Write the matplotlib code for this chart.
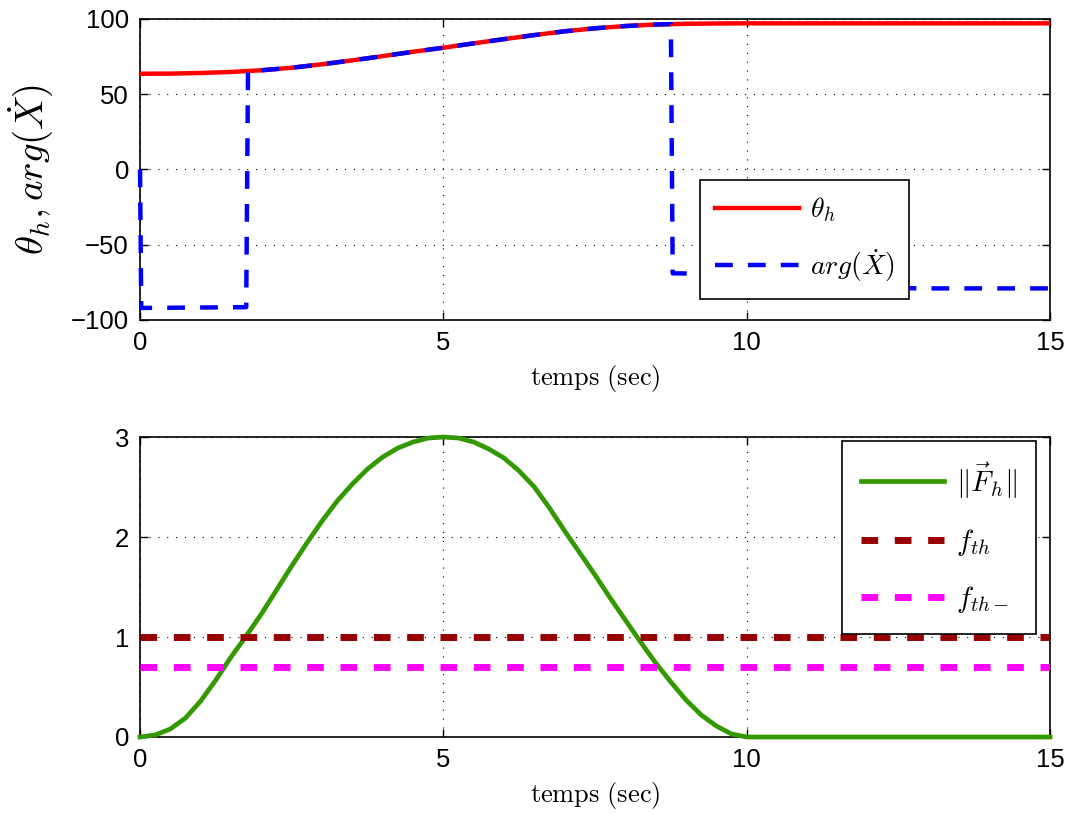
import matplotlib
matplotlib.use("Agg")
import matplotlib.pyplot as plt

plt.rcParams['font.family'] = ['Liberation Sans', 'DejaVu Sans']
plt.rcParams['mathtext.fontset'] = 'cm'

# --- top panel: heading angle and direction of the velocity (deg)
theta_t = [0, 0.5, 1, 1.5, 2, 2.5, 3, 3.5, 4, 4.5, 5, 5.5, 6, 6.5, 7, 7.5, 8, 8.5, 9, 9.5, 10, 15]
theta_h = [63.6, 63.7, 64.1, 64.8, 65.9, 67.6, 69.9, 72.5, 75.3, 78.2, 80.9, 83.8, 86.6, 89.3,
           91.8, 93.8, 95.3, 96.3, 96.8, 97.0, 97.1, 97.1]

arg_t = [0, 0.02, 1.75, 1.78, 2, 2.5, 3, 3.5, 4, 4.5, 5, 5.5, 6, 6.5, 7, 7.5, 8, 8.5, 8.75,
         8.78, 9.3, 10, 11, 12, 12.9, 15]
arg_x = [0, -92, -91.5, 65.6, 65.9, 67.6, 69.9, 72.5, 75.3, 78.2, 80.9, 83.8, 86.6, 89.3,
         91.8, 93.8, 95.3, 96.3, 96.6, -69, -69.2, -72, -76, -78.5, -79, -79]

# --- bottom panel: force norm and thresholds
force_t = [0, 0.25, 0.5, 0.75, 1, 1.25, 1.5, 1.75, 2, 2.25, 2.5, 2.75, 3, 3.25, 3.5, 3.75,
           4, 4.25, 4.5, 4.75, 5, 5.25, 5.5, 5.75, 6, 6.25, 6.5, 6.75, 7, 7.25, 7.5, 7.75,
           8, 8.25, 8.5, 8.75, 9, 9.25, 9.5, 9.75, 10, 15]
force_norm = [0, 0.02, 0.08, 0.19, 0.36, 0.57, 0.80, 1.01, 1.23, 1.47, 1.71, 1.94, 2.16, 2.36,
              2.53, 2.68, 2.80, 2.89, 2.95, 2.99, 3.0, 2.99, 2.95, 2.88, 2.79, 2.66, 2.50, 2.29,
              2.06, 1.84, 1.62, 1.39, 1.17, 0.95, 0.74, 0.55, 0.37, 0.22, 0.11, 0.03, 0.0, 0.0]
seuil_t = [0, 15]
f_th = [1, 1]
f_th_moins = [0.7, 0.7]

fig = plt.figure(figsize=(10.73, 8.14), dpi=100)
ax1 = fig.add_axes([0.1305, 0.6069, 0.8481, 0.3698])
ax2 = fig.add_axes([0.1305, 0.0946, 0.8481, 0.3685])

ax1.plot(theta_t, theta_h, color='#ff0000', lw=3.2, label=r'$\theta_h$', zorder=3)
ax1.plot(arg_t, arg_x, color='#0000ff', lw=3.2, ls='--', dashes=(4, 3.4),
         label=r'$arg(\dot{X})$', clip_on=False, zorder=4)
ax1.set_xlim(0, 15)
ax1.set_ylim(-100, 100)
ax1.set_yticks([-100, -50, 0, 50, 100])
ax1.set_ylabel(r'$\theta_h, arg(\dot{X})$', fontsize=28)
ax1.yaxis.set_label_coords(-0.092, 0.5)

ax2.plot(force_t, force_norm, color='#339900', lw=3.4, label=r'$\Vert\vec{F}_h\Vert$',
         clip_on=False, zorder=3, solid_joinstyle='round')
ax2.plot(seuil_t, f_th, color='#990000', lw=5, ls='--', dashes=(2.4, 2.4),
         label=r'$f_{th}$', zorder=4)
ax2.plot(seuil_t, f_th_moins, color='#ff00ff', lw=5, ls='--', dashes=(2.4, 2.4),
         label=r'$f_{th-}$', zorder=4)
ax2.set_xlim(0, 15)
ax2.set_ylim(0, 3)
ax2.set_yticks([0, 1, 2, 3])

for ax in (ax1, ax2):
    ax.set_xticks([0, 5, 10, 15])
    ax.grid(True, color='black', lw=0.8, ls=(0, (1, 7)))
    ax.tick_params(direction='in', length=6, width=1, top=True, right=True,
                   labelsize=18.5, pad=8)
    for s in ax.spines.values():
        s.set_linewidth(1.2)
    ax.set_xlabel(r'$\mathrm{temps\ (sec)}$', fontsize=19, labelpad=6)

leg1 = ax1.legend(loc='upper left', bbox_to_anchor=(700 / 1073, 1 - 180 / 814),
                  bbox_transform=fig.transFigure, borderaxespad=0, fontsize=20,
                  fancybox=False, framealpha=1, edgecolor='black', handlelength=3,
                  labelspacing=0.85, borderpad=0.55, handletextpad=0.4)
leg1.get_frame().set_linewidth(1.2)

leg2 = ax2.legend(loc='upper left', bbox_to_anchor=(842 / 1073, 1 - 441 / 814),
                  bbox_transform=fig.transFigure, borderaxespad=0, fontsize=21,
                  fancybox=False, framealpha=1, edgecolor='black', handlelength=2.85,
                  labelspacing=0.9, borderpad=0.65, handletextpad=0.4)
leg2.get_frame().set_linewidth(1.2)

fig.savefig('out.png', dpi=100)
